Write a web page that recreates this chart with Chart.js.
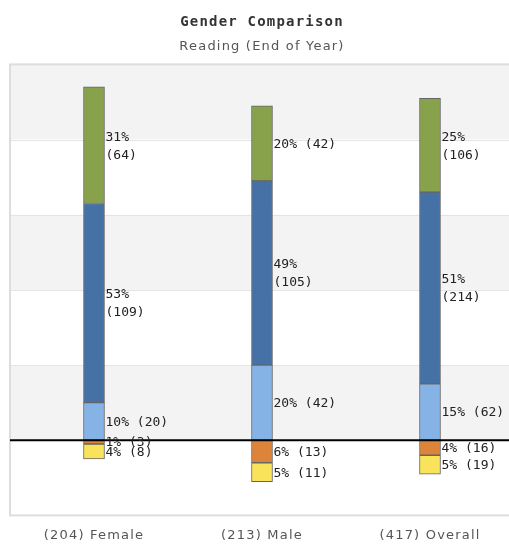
<!DOCTYPE html>
<html>
<head>
<meta charset="utf-8">
<script src="https://cdn.jsdelivr.net/npm/chart.js@4"></script>
<style>
  html, body { margin: 0; padding: 0; background: #fff; overflow: hidden; }
  #wrap { width: 509px; height: 551px; overflow: hidden; position: relative; }
  #box { width: 524px; height: 550px; }
</style>
</head>
<body>
<div id="wrap"><div id="box"><canvas id="c"></canvas></div></div>
<script>
// Groups and their student counts
const groups = ['Female', 'Male', 'Overall'];
const groupTotals = [204, 213, 417];

// Performance bands: percent of students and head counts
const advancedPct = [31, 20, 25];
const advancedN = [64, 42, 106];
const proficientPct = [53, 49, 51];
const proficientN = [109, 105, 214];
const basicPct = [10, 20, 15];
const basicN = [20, 42, 62];
const belowPct = [1, 6, 4];
const belowN = [3, 13, 16];
const farBelowPct = [4, 5, 5];
const farBelowN = [8, 11, 19];

// Value axis range and gridline step (percent)
const yMin = -20, yMax = 100, yStep = 20;

const labels = groups.map((g, i) => '(' + groupTotals[i] + ') ' + g);

const mk = (label, pct, counts, color, negative) => ({
  label,
  data: pct.map(v => negative ? -v : v),
  counts,
  pct,
  backgroundColor: color,
  borderColor: '#666666',
  borderWidth: 1,
  borderSkipped: false,
  barThickness: 21,
  stack: 's'
});

const datasets = [
  mk('Basic', basicPct, basicN, '#86b3e6', false),
  mk('Proficient', proficientPct, proficientN, '#4571a6', false),
  mk('Advanced', advancedPct, advancedN, '#88a24c', false),
  mk('Below Basic', belowPct, belowN, '#dc843a', true),
  mk('Far Below Basic', farBelowPct, farBelowN, '#f9e35b', true)
];

// Slightly spaced lettering for the chart's titles and axis labels
const spacing = {
  id: 'spacing',
  beforeDraw(chart) { chart.ctx.letterSpacing = '1.2px'; },
  afterDraw(chart) { chart.ctx.letterSpacing = '0px'; }
};

// Alternating bands, gridlines and frame behind the bars
const backdrop = {
  id: 'backdrop',
  beforeDatasetsDraw(chart) {
    const { ctx, chartArea: a, scales: { y } } = chart;
    ctx.save();
    let k = 0;
    for (let v = yMax; v > yMin; v -= yStep, k++) {
      const t = y.getPixelForValue(v), b = y.getPixelForValue(v - yStep);
      ctx.fillStyle = (k % 2 === 0) ? '#f3f3f3' : '#ffffff';
      ctx.fillRect(a.left, t, a.right - a.left, b - t);
    }
    ctx.strokeStyle = '#e4e4e4';
    ctx.lineWidth = 1;
    for (let v = yMin + yStep; v < yMax; v += yStep) {
      const p = Math.round(y.getPixelForValue(v)) + 0.5;
      ctx.beginPath(); ctx.moveTo(a.left, p); ctx.lineTo(a.right, p); ctx.stroke();
    }
    ctx.strokeStyle = '#dddddd';
    ctx.lineWidth = 2;
    ctx.strokeRect(a.left, a.top, a.right - a.left, a.bottom - a.top);
    ctx.restore();
  }
};

// Zero line and value labels beside each segment
const valueLabels = {
  id: 'valueLabels',
  afterDatasetsDraw(chart) {
    const { ctx, chartArea: a, scales: { y } } = chart;
    ctx.save();
    ctx.letterSpacing = '0px';
    const z = y.getPixelForValue(0);
    ctx.strokeStyle = '#000';
    ctx.lineWidth = 2;
    ctx.beginPath(); ctx.moveTo(a.left, z); ctx.lineTo(a.right, z); ctx.stroke();

    ctx.font = '13px "DejaVu Sans Mono", monospace';
    ctx.fillStyle = '#222';
    ctx.textBaseline = 'middle';
    ctx.textAlign = 'left';
    chart.data.datasets.forEach((ds, di) => {
      chart.getDatasetMeta(di).data.forEach((bar, i) => {
        const pctTxt = ds.pct[i] + '%';
        const nTxt = '(' + ds.counts[i] + ')';
        const x = bar.x + bar.width / 2 + 1;
        const cy = (bar.y + bar.base) / 2;
        const h = Math.abs(bar.base - bar.y);
        if (h > 80) {
          ctx.fillText(pctTxt, x, cy - 8);
          ctx.fillText(nTxt, x, cy + 10);
        } else {
          ctx.fillText(pctTxt + ' ' + nTxt, x, cy + 1);
        }
      });
    });
    ctx.restore();
  }
};

new Chart(document.getElementById('c'), {
  type: 'bar',
  data: { labels, datasets },
  options: {
    responsive: true,
    maintainAspectRatio: false,
    animation: false,
    layout: { padding: { left: 10, right: 10, top: 4, bottom: 3 } },
    plugins: {
      legend: { display: false },
      tooltip: { enabled: false },
      title: {
        display: true,
        text: 'Gender Comparison',
        color: '#333',
        font: { family: '"DejaVu Sans Mono", monospace', size: 14, weight: 'bold' },
        padding: { top: 10, bottom: 4 }
      },
      subtitle: {
        display: true,
        text: 'Reading (End of Year)',
        color: '#555',
        font: { family: '"DejaVu Sans", sans-serif', size: 13 },
        padding: { top: 4, bottom: 10 }
      }
    },
    scales: {
      x: {
        stacked: true,
        grid: { display: false },
        border: { display: false },
        ticks: { color: '#555', font: { family: '"DejaVu Sans", sans-serif', size: 13 }, padding: 4 }
      },
      y: {
        stacked: true,
        display: false,
        min: yMin,
        max: yMax
      }
    }
  },
  plugins: [spacing, backdrop, valueLabels]
});
</script>
</body>
</html>
